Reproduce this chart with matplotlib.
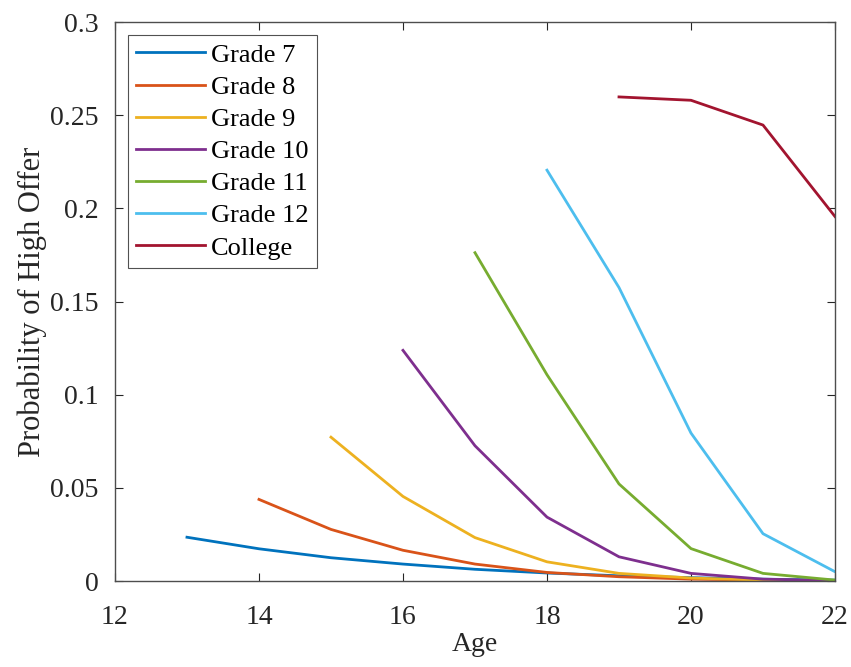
import numpy as np
import matplotlib
matplotlib.use("Agg")
import matplotlib.pyplot as plt

## Probability of a high offer by age, one line per education level

plt.rcParams['font.family'] = ['Liberation Serif', 'DejaVu Serif']

labels = ["Grade 7", "Grade 8", "Grade 9", "Grade 10", "Grade 11", "Grade 12", "College"]
start_ages = [13, 14, 15, 16, 17, 18, 19]

grade7 = [0.0235, 0.0173, 0.0125, 0.0091, 0.0063, 0.0043, 0.0028, 0.0018, 0.0010, 0.0005]
grade8 = [0.0438, 0.0277, 0.0165, 0.0091, 0.0046, 0.0023, 0.0010, 0.0005, 0.0002]
grade9 = [0.0772, 0.0454, 0.0233, 0.0103, 0.0041, 0.0016, 0.0005, 0.0002]
grade10 = [0.1238, 0.0726, 0.0343, 0.0130, 0.0041, 0.0010, 0.0002]
grade11 = [0.1762, 0.1107, 0.0521, 0.0174, 0.0041, 0.0005]
grade12 = [0.2205, 0.1575, 0.0794, 0.0254, 0.0050]
college = [0.2598, 0.2580, 0.2447, 0.1956]

series = [grade7, grade8, grade9, grade10, grade11, grade12, college]
colors = ["#0072BD", "#D95319", "#EDB120", "#7E2F8E", "#77AC30", "#4DBEEE", "#A2142F"]

xticks = [12, 14, 16, 18, 20, 22]
yticks = [0, 0.05, 0.1, 0.15, 0.2, 0.25, 0.3]
yticklabels = ["0", "0.05", "0.1", "0.15", "0.2", "0.25", "0.3"]

fig = plt.figure(figsize=(8.51, 6.67), dpi=100)
ax = fig.add_axes([0.1351, 0.1289, 0.8461, 0.8381])

for vals, a0, lab, c in zip(series, start_ages, labels, colors):
    ages = np.arange(a0, a0 + len(vals))
    ax.plot(ages, vals, color=c, lw=2, label=lab)

ax.set_xlim(12, 22)
ax.set_ylim(0, 0.3)
ax.set_xticks(xticks)
ax.set_yticks(yticks)
ax.set_yticklabels(yticklabels)
ax.tick_params(direction="in", length=6, width=0.8, top=True, right=True,
               labelsize=20, colors="0.15")
ax.tick_params(axis="x", pad=17)
ax.tick_params(axis="y", pad=12)
for s in ax.spines.values():
    s.set_color("0.3")
    s.set_linewidth(1)

ax.set_xlabel("Age", fontsize=20, color="0.15", labelpad=2)
ax.set_ylabel("Probability of High Offer", fontsize=22, color="0.15", labelpad=2)

leg = ax.legend(loc="upper left", fontsize=19, frameon=True, fancybox=False,
                handlelength=2.6, handletextpad=0.25, labelspacing=0.33,
                borderpad=0.3, borderaxespad=0.5)
leg.get_frame().set_edgecolor("0.15")
leg.get_frame().set_linewidth(0.8)

fig.savefig("out.png", dpi=100)
